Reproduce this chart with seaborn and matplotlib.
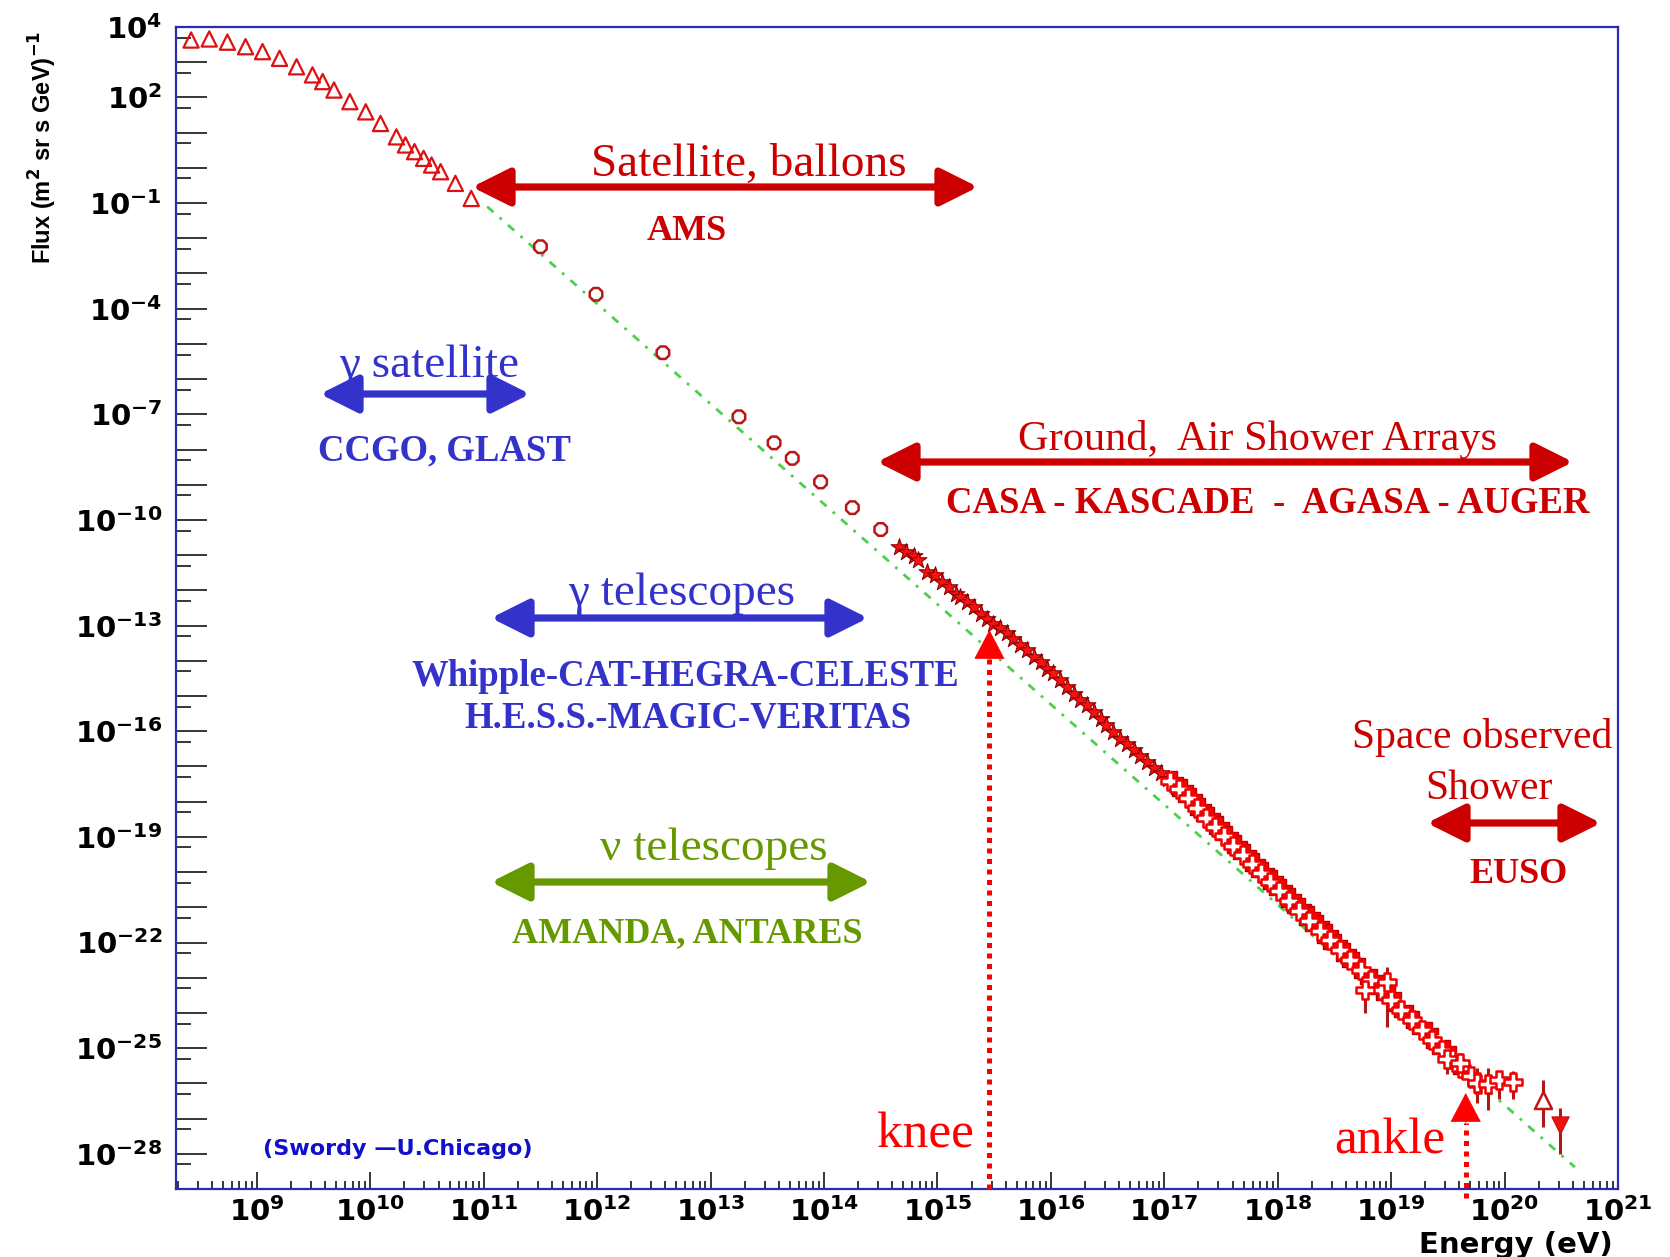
import numpy as np
import pandas as pd
import matplotlib
matplotlib.use("Agg")
import matplotlib.pyplot as plt
from matplotlib.patches import FancyArrowPatch
from matplotlib.ticker import LogLocator, FuncFormatter, NullFormatter
from matplotlib import font_manager
import seaborn as sns

W, H = 1670, 1257

# ---------------- data: log10(E / eV) and log10(flux) ----------------
# direct measurements at low energy (open triangles)
tri_logE = [8.42, 8.58, 8.74, 8.90, 9.05, 9.20, 9.35, 9.49, 9.58, 9.68, 9.82,
            9.96, 10.09, 10.23, 10.31, 10.39, 10.47, 10.54, 10.62, 10.75, 10.89]
tri_logF = [3.63, 3.66, 3.57, 3.44, 3.30, 3.11, 2.87, 2.64, 2.45, 2.21, 1.88,
            1.59, 1.26, 0.88, 0.65, 0.46, 0.27, 0.08, -0.11, -0.44, -0.87]

# balloon / satellite points (open octagons)
oct_logE = [11.50, 11.99, 12.58, 13.25, 13.56, 13.72, 13.97, 14.25, 14.50]
oct_logF = [-2.24, -3.59, -5.25, -7.07, -7.81, -8.25, -8.92, -9.65, -10.27]

# air shower data around the knee (stars)
star_logE = [14.66, 14.72, 14.79, 14.83, 14.91, 14.98, 15.04, 15.10, 15.16, 15.20,
             15.26, 15.32, 15.38, 15.44, 15.49, 15.55, 15.61, 15.67, 15.73, 15.79,
             15.85, 15.91, 15.97, 16.02, 16.08, 16.14, 16.20, 16.26, 16.32, 16.38,
             16.44, 16.49, 16.55, 16.61, 16.67, 16.73, 16.79, 16.85, 16.91, 16.97,
             17.03, 17.10]
star_logF = [-10.76, -10.91, -11.03, -11.14, -11.47, -11.57, -11.76, -11.90, -12.09, -12.18,
             -12.33, -12.47, -12.66, -12.80, -12.96, -13.08, -13.22, -13.37, -13.56, -13.70,
             -13.89, -14.03, -14.22, -14.36, -14.55, -14.74, -14.93, -15.10, -15.26, -15.45,
             -15.64, -15.83, -16.02, -16.21, -16.35, -16.52, -16.69, -16.86, -17.03, -17.20,
             -17.37, -17.57]

# highest energy air shower data (crosses), overlapping experiments
cross_logE = [17.05, 17.13, 17.21, 17.29, 17.37, 17.45, 17.53, 17.61, 17.69, 17.77,
              17.85, 17.93, 18.01, 18.10, 18.19, 18.28, 18.37, 18.46, 18.55, 18.64,
              18.73, 18.82, 18.91, 19.00, 19.09, 19.18, 19.27, 19.36, 19.45, 19.54,
              19.62, 19.70, 19.77]
cross_logF = [-17.40, -17.64, -17.90, -18.18, -18.45, -18.71, -18.98, -19.25, -19.52, -19.78,
              -20.03, -20.28, -20.53, -20.81, -21.10, -21.38, -21.66, -21.94, -22.22, -22.51,
              -22.79, -23.07, -23.35, -23.63, -23.91, -24.19, -24.48, -24.76, -25.04, -25.32,
              -25.56, -25.80, -26.02]
cross2_logE = [17.09, 17.17, 17.25, 17.33, 17.41, 17.49, 17.57, 17.65, 17.73, 17.81,
               17.89, 17.97, 18.05, 18.13, 18.21, 18.29, 18.37, 18.45, 18.53, 18.61,
               18.69, 18.85, 19.01, 19.17, 19.33, 19.49]
cross2_logF = [-17.38, -17.62, -17.88, -18.14, -18.42, -18.66, -18.94, -19.20, -19.46, -19.72,
               -19.98, -20.20, -20.44, -20.70, -20.98, -21.22, -21.48, -21.74, -22.00, -22.26,
               -22.52, -23.02, -23.50, -24.02, -24.52, -25.02]
cross3_logE = [17.15, 17.31, 17.47, 17.63, 17.79, 17.95, 18.11, 18.27, 18.43, 18.59,
               18.75, 18.89, 19.05, 19.21, 19.39, 19.57]
cross3_logF = [-17.74, -18.30, -18.83, -19.36, -19.88, -20.40, -20.90, -21.42, -21.92, -22.43,
               -22.93, -23.38, -23.86, -24.34, -24.90, -25.48]

# points with vertical error bars
eb_logE = [18.77, 18.96, 19.49, 19.61, 19.76, 19.85, 19.95, 20.07]
eb_logF = [-23.36, -23.12, -25.30, -25.42, -25.98, -26.02, -25.91, -25.97]
eb_low = [-24.01, -24.41, -25.72, -25.80, -26.57, -26.77, -26.45, -26.45]
eb_high = [-23.27, -22.70, -25.06, -25.14, -25.55, -25.55, -25.65, -25.65]

# two highest energy points
up_logE, up_logF, up_low, up_high = [20.34], [-26.48], [-27.25], [-25.91]
dn_logE, dn_logF, dn_low, dn_high = [20.49], [-27.19], [-28.00], [-26.71]

# power-law guide (green dotted line) end points
fit_logE = [11.03, 20.62]
fit_logF = [-1.10, -28.38]

# special energies
knee_logE = 15.46
ankle_logE = 19.66

# axis labelling
x_label_exps = list(range(9, 22))
y_label_exps = [4, 2, -1, -4, -7, -10, -13, -16, -19, -22, -25, -28]


def frame(le, lf):
    return pd.DataFrame({"E": np.power(10.0, le), "F": np.power(10.0, lf)})


# ---------------- style ----------------
sns.set_theme(style="white")
plt.rcParams.update({
    "font.family": ["DejaVu Sans"],
    "mathtext.fontset": "dejavusans",
    "mathtext.default": "bf",
})

installed = {f.name for f in font_manager.fontManager.ttflist}
YLAB_FAMILY = [f for f in ["Liberation Sans Narrow", "Liberation Sans", "DejaVu Sans"] if f in installed]
YLAB_SIZE = 20 if "Liberation Sans Narrow" in installed else 17

RED = "#CC0000"
BRIGHT = "#FF0000"
BLUE = "#3333CC"
GREEN = "#669900"
SPINE = "#2B2BB0"

fig, ax = plt.subplots(figsize=(W / 100, H / 100), dpi=100)
fig.patch.set_facecolor("white")
fig.subplots_adjust(left=176 / W, right=1618 / W, bottom=1 - 1189 / H, top=1 - 27 / H)
ax.set_xscale("log")
ax.set_yscale("log")
ax.set_xlim(10 ** 8.287, 1e21)
ax.set_ylim(1e-29, 1e4)

# ---------------- data layers ----------------
fit = frame(fit_logE, fit_logF)
sns.lineplot(data=fit, x="E", y="F", ax=ax, color="#4CD04C", linewidth=2.0,
             linestyle=(0, (3, 3, 1, 3)), zorder=2)

sns.scatterplot(data=frame(tri_logE, tri_logF), x="E", y="F", ax=ax, marker="^", s=120,
                color=RED, facecolor="none", edgecolor="#DD1111", linewidth=1.6, zorder=4)
sns.scatterplot(data=frame(oct_logE, oct_logF), x="E", y="F", ax=ax, marker="8", s=95,
                color=RED, facecolor="none", edgecolor="#BB1515", linewidth=1.8, zorder=4)
sns.scatterplot(data=frame(star_logE, star_logF), x="E", y="F", ax=ax, marker="*", s=160,
                color=BRIGHT, facecolor="#FF1010", edgecolor="#8A0000", linewidth=0.8, zorder=4)

ebdf = pd.DataFrame({"E": np.power(10.0, eb_logE),
                     "lo": np.power(10.0, eb_low), "hi": np.power(10.0, eb_high)})
ax.vlines(ebdf["E"], ebdf["lo"], ebdf["hi"], color="#B01818", linewidth=2.2, zorder=3)
ax.vlines(np.power(10.0, up_logE), np.power(10.0, up_low), np.power(10.0, up_high),
          color="#B01818", linewidth=2.2, zorder=3)
ax.vlines(np.power(10.0, dn_logE), np.power(10.0, dn_low), np.power(10.0, dn_high),
          color="#B01818", linewidth=2.2, zorder=3)

sns.scatterplot(data=frame(cross3_logE, cross3_logF), x="E", y="F", ax=ax, marker="P", s=150,
                color=BRIGHT, facecolor="#FF0000", edgecolor="#A00000", linewidth=1.0, zorder=4)
sns.scatterplot(data=frame(cross2_logE, cross2_logF), x="E", y="F", ax=ax, marker="P", s=150,
                color=BRIGHT, facecolor="#FF0000", edgecolor="#C00000", linewidth=1.0, zorder=4)
for le, lf in [(cross_logE, cross_logF), (eb_logE, eb_logF)]:
    sns.scatterplot(data=frame(le, lf), x="E", y="F", ax=ax, marker="P", s=150,
                    color=BRIGHT, facecolor="white", edgecolor="#F00000", linewidth=1.8, zorder=4)
sns.scatterplot(data=frame(up_logE, up_logF), x="E", y="F", ax=ax, marker="^", s=150,
                color=RED, facecolor="white", edgecolor="#C01515", linewidth=1.8, zorder=5)
sns.scatterplot(data=frame(dn_logE, dn_logF), x="E", y="F", ax=ax, marker="v", s=150,
                color=BRIGHT, facecolor="#F01010", edgecolor="#C01515", linewidth=1.0, zorder=5)

# ---------------- axes decoration ----------------
for sp in ax.spines.values():
    sp.set_color(SPINE)
    sp.set_linewidth(1.6)

ax.xaxis.set_major_locator(LogLocator(base=10, numticks=60))
ax.xaxis.set_minor_locator(LogLocator(base=10, subs=np.arange(2, 10), numticks=60))
ax.yaxis.set_major_locator(LogLocator(base=10, numticks=60))
ax.yaxis.set_minor_locator(LogLocator(base=10, subs=(5.0,), numticks=60))


def xfmt(v, pos):
    e = int(round(np.log10(v)))
    return r"$10^{%d}$" % e if e in x_label_exps else ""


def yfmt(v, pos):
    e = int(round(np.log10(v)))
    return r"$10^{%d}$" % e if e in y_label_exps else ""


ax.xaxis.set_major_formatter(FuncFormatter(xfmt))
ax.yaxis.set_major_formatter(FuncFormatter(yfmt))
ax.xaxis.set_minor_formatter(NullFormatter())
ax.yaxis.set_minor_formatter(NullFormatter())

ax.tick_params(axis="x", which="major", direction="in", length=12, width=1.1,
               color="black", labelsize=21, labelcolor="black", pad=6, top=False, bottom=True)
ax.tick_params(axis="x", which="minor", direction="in", length=6, width=1.1,
               color="black", top=False, bottom=True)
ax.tick_params(axis="y", which="major", direction="in", length=22, width=1.1,
               color="black", labelsize=21, labelcolor="black", pad=10, left=True, right=False)
ax.tick_params(axis="y", which="minor", direction="in", length=11, width=1.1,
               color="black", left=True, right=False)

ax.set_xlabel("Energy (eV)", fontsize=21, fontweight="bold", loc="right", color="black")
ax.xaxis.set_label_coords(0.9965, -0.036)
ax.set_ylabel(r"Flux (m$^{2}$ sr s GeV)$^{-1}$", fontsize=YLAB_SIZE, fontweight="bold", loc="top",
              family=YLAB_FAMILY, color="black")
ax.yaxis.set_label_coords(-0.081, 0.997)


# ---------------- annotations (positions in figure pixels) ----------------
def fxy(px, py):
    return px / W, 1 - py / H


SERIF = ["Liberation Serif", "DejaVu Serif"]
labels = [
    ("Satellite, ballons", 749, 176, RED, 34, "normal"),
    ("AMS", 687, 240, RED, 26, "bold"),
    ("\u03b3 satellite", 429, 377, BLUE, 34, "normal"),
    ("CCGO, GLAST", 444, 460, BLUE, 26.5, "bold"),
    ("Ground,  Air Shower Arrays", 1258, 450, RED, 30.5, "normal"),
    ("CASA - KASCADE  -  AGASA - AUGER", 1268, 513, RED, 26.5, "bold"),
    ("\u03b3 telescopes", 682, 605, BLUE, 34, "normal"),
    ("Whipple-CAT-HEGRA-CELESTE", 685, 686, BLUE, 26.5, "bold"),
    ("H.E.S.S.-MAGIC-VERITAS", 688, 728, BLUE, 26.5, "bold"),
    ("Space observed", 1482, 748, RED, 30, "normal"),
    ("Shower", 1489, 799, RED, 30, "normal"),
    ("EUSO", 1519, 883, RED, 26, "bold"),
    ("\u03bd telescopes", 714, 860, GREEN, 34, "normal"),
    ("AMANDA, ANTARES", 687, 942, GREEN, 26, "bold"),
    ("knee", 925, 1147, BRIGHT, 37, "normal"),
    ("ankle", 1390, 1153, BRIGHT, 37, "normal"),
]
for txt, px, py, col, fs, fw in labels:
    fig.text(*fxy(px, py), txt, color=col, fontsize=fs, fontweight=fw,
             family=SERIF, ha="center", va="baseline")

fig.text(*fxy(398, 1149), "(Swordy \u2014U.Chicago)", color="#1010CC", fontsize=16,
         fontweight="bold", ha="center", va="center")


def harrow(x0, x1, y, col):
    arr = FancyArrowPatch(fxy(x0, y), fxy(x1, y), transform=fig.transFigure,
                          arrowstyle="<|-|>,head_length=2.3,head_width=1.15",
                          mutation_scale=10, lw=5.2, color=col,
                          shrinkA=0, shrinkB=0, zorder=6)
    fig.add_artist(arr)


harrow(472, 978, 187, RED)
harrow(320, 530, 394, BLUE)
harrow(877, 1573, 462, RED)
harrow(491, 868, 618, BLUE)
harrow(1427, 1601, 823, RED)
harrow(491, 871, 882, GREEN)


def varrow(xpx, y_bottom, y_base, y_tip):
    fig.add_artist(plt.Line2D([xpx / W, xpx / W], [1 - y_bottom / H, 1 - y_base / H],
                              transform=fig.transFigure, color=BRIGHT, lw=3.6,
                              linestyle=(0, (1, 1.1)), solid_capstyle="butt",
                              dash_capstyle="butt", zorder=6))
    fig.add_artist(FancyArrowPatch(fxy(xpx, y_base + 1), fxy(xpx, y_tip), transform=fig.transFigure,
                                   arrowstyle="-|>,head_length=2.0,head_width=1.05",
                                   mutation_scale=10, lw=0.5, color=BRIGHT,
                                   shrinkA=0, shrinkB=0, zorder=6))


knee_px = 176 + (knee_logE - 8.287) * 113.4
ankle_px = 176 + (ankle_logE - 8.287) * 113.4
varrow(knee_px, 1189, 658, 630)
varrow(ankle_px, 1198, 1123, 1093)

fig.savefig("out.png", dpi=100, facecolor="white")
